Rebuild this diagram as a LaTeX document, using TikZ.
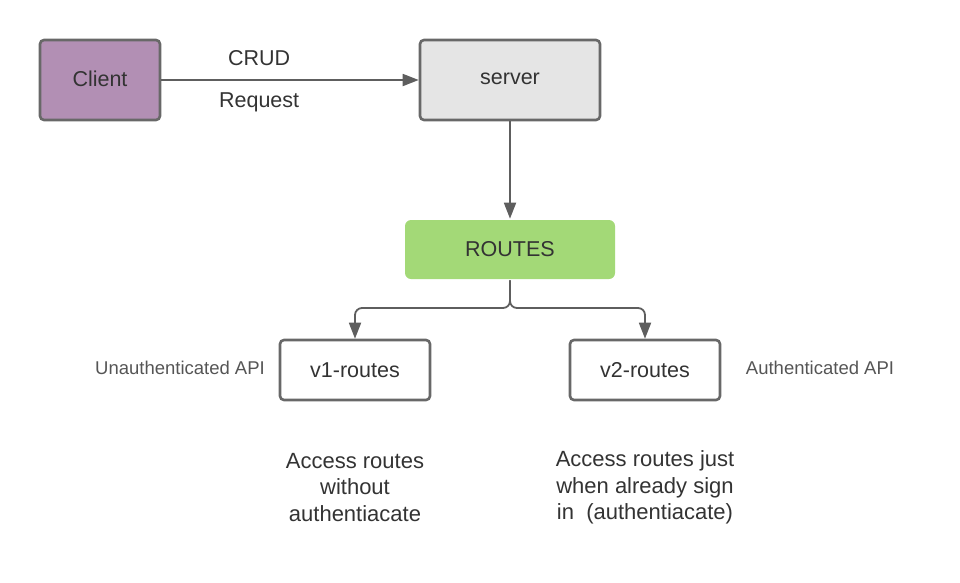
\documentclass[tikz,border=0pt]{standalone}
\usepackage{fontspec}
\setmainfont{Liberation Sans}
\usetikzlibrary{arrows.meta}
\definecolor{edge}{HTML}{5E5E5E}
\definecolor{boxline}{HTML}{686868}
\definecolor{txt}{HTML}{333333}
\definecolor{lbl}{HTML}{555555}
\definecolor{clientfill}{HTML}{B28FB4}
\definecolor{serverfill}{HTML}{E5E5E5}
\definecolor{routesfill}{HTML}{A3D977}
\tikzset{
  box/.style={draw=boxline, line width=2.6pt, rounded corners=4pt, inner sep=0pt, text=txt, font=\fontsize{21.5}{24}\selectfont},
  conn/.style={draw=edge, line width=1.8pt, -{Triangle[length=16pt,width=12pt]}},
  side/.style={text=lbl, font=\fontsize{18.5}{21}\selectfont},
  note/.style={text=txt, align=center, font=\fontsize{22}{26.5}\selectfont},
}
\begin{document}
\begin{tikzpicture}[x=1pt,y=-1pt]
\useasboundingbox (0,0) rectangle (960,582);
\node[box, fill=clientfill, minimum width=120pt, minimum height=80pt] (client) at (100,80) {\raisebox{2pt}{Client}};
\node[box, fill=serverfill, minimum width=180pt, minimum height=80pt] (server) at (510,80) {\raisebox{2pt}{server}};
\node[box, draw=none, fill=routesfill, rounded corners=6pt, minimum width=210pt, minimum height=59pt] (routes) at (510,249.5) {\raisebox{1.5pt}{ROUTES}};
\node[box, fill=white, minimum width=150pt, minimum height=60pt] (v1) at (355,370) {v1-routes};
\node[box, fill=white, minimum width=150pt, minimum height=60pt] (v2) at (645,370) {v2-routes};
\draw[conn] (client.east) -- (server.west)
  node[pos=0.38, above=10pt, text=txt, font=\fontsize{21.5}{24}\selectfont] (crud) {CRUD}
  node[pos=0.38, below=8pt, text=txt, font=\fontsize{21.5}{24}\selectfont] (req) {Request};
\draw[conn] (server.south) -- (routes.north);
\coordinate (split) at (510,308);
\draw[conn, rounded corners=7pt] (routes.south) -- (split) -| (v1.north);
\draw[conn, rounded corners=7pt] (routes.south) -- (split) -| (v2.north);
\node[side] (unauth) at (180,368) {Unauthenticated API};
\node[side] (auth) at (820,368) {Authenticated API};
\node[note] (n1) at (355,487.5) {Access routes\\without\\authentiacate};
\node[note] (n2) at (645,487.5) {Access routes just\\when already sign\\in\ \ (authentiacate)};
\end{tikzpicture}
\end{document}
